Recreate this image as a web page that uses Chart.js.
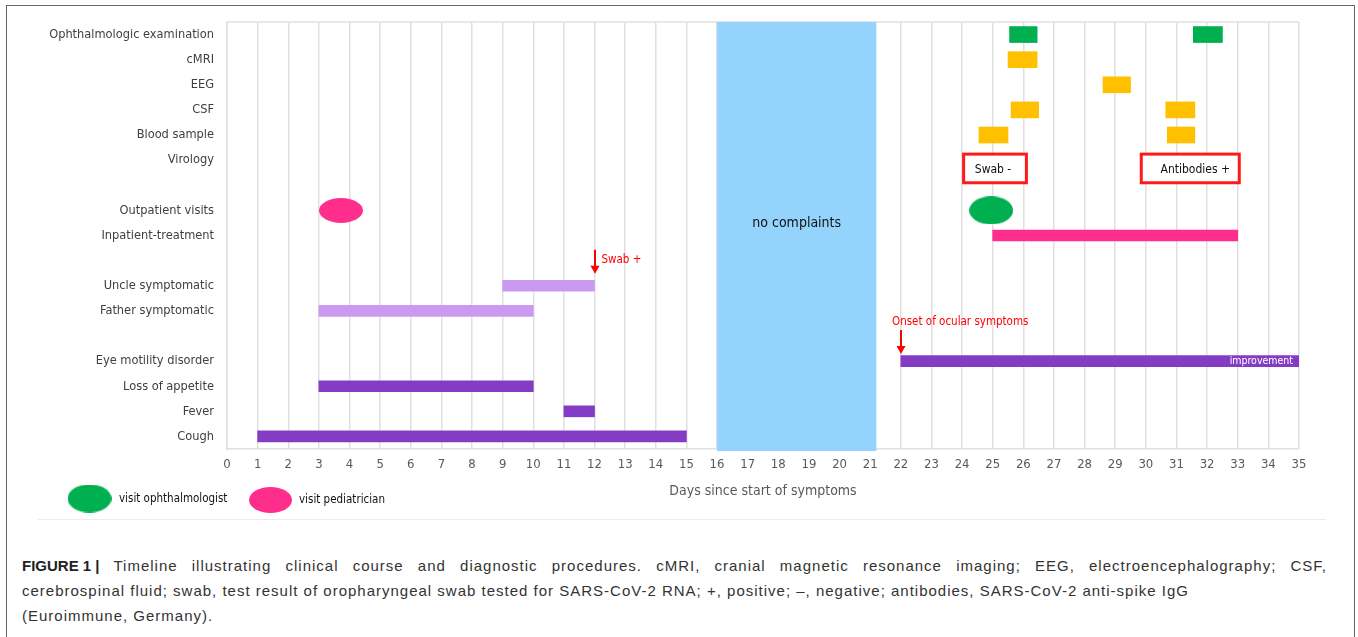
<!DOCTYPE html>
<html>
<head>
<meta charset="utf-8">
<script src="https://cdn.jsdelivr.net/npm/chart.js@4.4.1/dist/chart.umd.min.js"></script>
<style>
  html, body { margin: 0; padding: 0; background: #fff; }
  body { width: 1358px; height: 637px; position: relative; overflow: hidden; font-family: 'Liberation Sans', Arial, sans-serif; }
  .frame { position: absolute; left: 6px; top: 5px; width: 1347px; height: 660px; border: 1.5px solid #666; }
  .chartBox { position: absolute; left: 0; top: 0; width: 1358px; height: 525px; }
  .rule { position: absolute; left: 38px; top: 519px; width: 1288px; height: 1px; background: #ececec; }
  .caption { position: absolute; left: 22px; top: 553px; width: 1305px; font-size: 15px; line-height: 25px; color: #333; letter-spacing: 1px; }
  .caption div { white-space: nowrap; }
  .caption .just { white-space: normal; text-align: justify; text-align-last: justify; }
  .caption b { display: inline-block; letter-spacing: 0; color: #222; }
</style>
</head>
<body>
<div class="frame"></div>
<div class="rule"></div>
<div class="chartBox"><canvas id="timeline" width="1358" height="525"></canvas></div>
<div class="caption">
  <div class="just"><b>FIGURE 1 |</b> Timeline illustrating clinical course and diagnostic procedures. cMRI, cranial magnetic resonance imaging; EEG, electroencephalography; CSF,</div>
  <div>cerebrospinal fluid; swab, test result of oropharyngeal swab tested for SARS-CoV-2 RNA; +, positive; &ndash;, negative; antibodies, SARS-CoV-2 anti-spike IgG</div>
  <div>(Euroimmune, Germany).</div>
</div>
<script>
const FONT = "'DejaVu Sans Condensed', 'DejaVu Sans', sans-serif";

// rows of the timeline (blank rows are spacers)
const rowLabels = ['Ophthalmologic examination', 'cMRI', 'EEG', 'CSF', 'Blood sample', 'Virology', '',
    'Outpatient visits', 'Inpatient-treatment', '', 'Uncle symptomatic', 'Father symptomatic', '',
    'Eye motility disorder', 'Loss of appetite', 'Fever', 'Cough'];
const dayTicks = [0, 1, 2, 3, 4, 5, 6, 7, 8, 9, 10, 11, 12, 13, 14, 15, 16, 17, 18, 19, 20,
    21, 22, 23, 24, 25, 26, 27, 28, 29, 30, 31, 32, 33, 34, 35];

// diagnostic procedures (first and second round)
const examRows = ['Ophthalmologic examination', 'cMRI', 'EEG', 'CSF', 'Blood sample'];
const examFirst = [[25.55, 26.45], [25.5, 26.45], [28.6, 29.5], [25.6, 26.5], [24.55, 25.5]];
const examSecond = [[31.55, 32.5], null, null, [30.65, 31.6], [30.7, 31.6]];
const examColors = ['#00b050', '#ffc000', '#ffc000', '#ffc000', '#ffc000'];

// clinical course
const courseRows = ['Inpatient-treatment', 'Uncle symptomatic', 'Father symptomatic',
    'Eye motility disorder', 'Loss of appetite', 'Fever', 'Cough'];
const courseDays = [[25, 33], [9, 12], [3, 10], [22, 35], [3, 10], [11, 12], [1, 15]];
const courseColors = ['#ff2e8c', '#c99af0', '#c99af0', '#843cc4', '#843cc4', '#843cc4', '#843cc4'];

// outpatient visits
const visitLabels = ['visit ophthalmologist', 'visit pediatrician'];
const visitDays = [24.95, 3.72];
const visitColors = ['#00b050', '#ff2e8c'];

// virology results
const virologyTests = ['Swab -', 'Antibodies +'];
const virologyDays = [[24.05, 26.1], [29.85, 33.05]];

// notes
const noComplaints = [16, 21.2];
const noComplaintsLabel = 'no complaints';
const noteText = ['Swab +', 'Onset of ocular symptoms'];
const noteDay = [12, 22];
const noteRow = ['Uncle symptomatic', 'Eye motility disorder'];
const eyeNote = 'improvement';

const ellipseImage = (color, w, h) => {
    const c = document.createElement('canvas');
    c.width = w;
    c.height = h;
    const g = c.getContext('2d');
    g.fillStyle = color;
    g.beginPath();
    g.ellipse(w / 2, h / 2, w / 2, h / 2, 0, 0, Math.PI * 2);
    g.fill();
    return c;
};
const visitMarks = [ellipseImage(visitColors[0], 44, 28), ellipseImage(visitColors[1], 44, 25)];
const legendMarks = [ellipseImage(visitColors[0], 44, 28), ellipseImage(visitColors[1], 43, 26)];

const barSet = (rows, days, colors, thickness) => ({
    type: 'bar',
    data: rows.map((r, i) => days[i] ? { x: days[i], y: r } : null).filter(Boolean),
    backgroundColor: rows.map((r, i) => colors[i]).filter((c, i) => days[i]),
    barThickness: thickness,
    grouped: false,
    borderWidth: 0
});

const timelineExtras = {
    id: 'timelineExtras',
    beforeDatasetsDraw(chart) {
        const { ctx, chartArea, scales: { x, y } } = chart;
        ctx.save();
        ctx.strokeStyle = '#e0e0e0';
        ctx.lineWidth = 1.5;
        ctx.beginPath();
        ctx.moveTo(chartArea.left, chartArea.top);
        ctx.lineTo(chartArea.right, chartArea.top);
        ctx.stroke();

        const x0 = x.getPixelForValue(noComplaints[0]);
        const x1 = x.getPixelForValue(noComplaints[1]);
        ctx.fillStyle = '#94d3fc';
        ctx.fillRect(x0, chartArea.top, x1 - x0, chartArea.bottom - chartArea.top + 2);
        ctx.fillStyle = '#111';
        ctx.font = '14px ' + FONT;
        ctx.textAlign = 'center';
        ctx.textBaseline = 'middle';
        ctx.fillText(noComplaintsLabel, (x0 + x1) / 2, (y.getPixelForValue(7) + y.getPixelForValue(8)) / 2);
        ctx.restore();
    },
    afterDatasetsDraw(chart) {
        const { ctx, scales: { x, y } } = chart;
        const rowPx = name => y.getPixelForValue(rowLabels.indexOf(name));
        const step = y.getPixelForValue(1) - y.getPixelForValue(0);
        ctx.save();

        // boxes with virology results
        const vy = rowPx('Virology') + step * 0.33;
        const vh = step * 1.14;
        ctx.font = '12px ' + FONT;
        ctx.textAlign = 'center';
        ctx.textBaseline = 'middle';
        virologyTests.forEach((t, i) => {
            const x0 = x.getPixelForValue(virologyDays[i][0]);
            const x1 = x.getPixelForValue(virologyDays[i][1]);
            ctx.fillStyle = '#fff';
            ctx.fillRect(x0, vy - vh / 2, x1 - x0, vh);
            ctx.strokeStyle = '#ff1a1a';
            ctx.lineWidth = 3;
            ctx.strokeRect(x0, vy - vh / 2, x1 - x0, vh);
            ctx.fillStyle = '#111';
            ctx.fillText(t, (x0 + x1) / 2 + (i ? 5 : -2), vy + 1);
        });

        // red arrows
        const gaps = [6.5, 1.5];
        ctx.font = '11.5px ' + FONT;
        ctx.textBaseline = 'middle';
        noteText.forEach((t, i) => {
            const ax = Math.round(x.getPixelForValue(noteDay[i]));
            const tip = rowPx(noteRow[i]) - 5.5 - gaps[i];
            ctx.strokeStyle = '#ff0000';
            ctx.fillStyle = '#ff0000';
            ctx.lineWidth = 2;
            ctx.beginPath();
            ctx.moveTo(ax, tip - 24);
            ctx.lineTo(ax, tip - 7);
            ctx.stroke();
            ctx.beginPath();
            ctx.moveTo(ax - 4.5, tip - 8);
            ctx.lineTo(ax + 4.5, tip - 8);
            ctx.lineTo(ax, tip);
            ctx.closePath();
            ctx.fill();
            ctx.textAlign = 'left';
            if (i === 0) {
                ctx.fillText(t, ax + 6.5, tip - 14);
            } else {
                ctx.fillText(t, ax - 9, tip - 32);
            }
        });

        // text inside the eye motility bar
        ctx.fillStyle = '#fff';
        ctx.font = '10.5px ' + FONT;
        ctx.textAlign = 'right';
        ctx.fillText(eyeNote, x.getPixelForValue(35) - 6, rowPx('Eye motility disorder') + 0.5);
        ctx.restore();
    },
    afterDraw(chart) {
        const ctx = chart.ctx;
        const keyX = [89.5, 270.5];
        const keyY = [498.5, 500];
        const textX = [119, 299];
        ctx.save();
        ctx.font = '11.5px ' + FONT;
        ctx.fillStyle = '#111';
        ctx.textAlign = 'left';
        ctx.textBaseline = 'middle';
        visitLabels.forEach((t, i) => {
            const img = legendMarks[i];
            ctx.drawImage(img, keyX[i] - img.width / 2, keyY[i] - img.height / 2);
            ctx.fillText(t, textX[i], keyY[i] + 0.5);
        });
        ctx.restore();
    }
};

const datasets = [
    barSet(examRows, examFirst, examColors, 16),
    barSet(examRows, examSecond, examColors, 16),
    barSet(courseRows, courseDays, courseColors, 11)
];
visitLabels.forEach((label, i) => {
    datasets.push({
        type: 'scatter',
        label: label,
        data: [{ x: visitDays[i], y: 'Outpatient visits' }],
        pointStyle: visitMarks[i],
        clip: false
    });
});

new Chart(document.getElementById('timeline'), {
    type: 'bar',
    data: { labels: rowLabels, datasets: datasets },
    options: {
        indexAxis: 'y',
        responsive: false,
        animation: false,
        events: [],
        layout: { padding: { left: 0, top: 22, right: 59, bottom: 0 } },
        plugins: { legend: { display: false }, tooltip: { enabled: false } },
        scales: {
            x: {
                type: 'linear',
                min: 0,
                max: 35,
                afterBuildTicks: s => { s.ticks = dayTicks.map(v => ({ value: v })); },
                afterFit: s => { s.height = 76; },
                grid: { color: '#e0e0e0', lineWidth: 1.5, drawTicks: false },
                border: { color: '#e0e0e0', width: 1.5 },
                ticks: { padding: 8, color: '#595959', font: { family: FONT, size: 13 }, autoSkip: false, maxRotation: 0 },
                title: {
                    display: true,
                    text: 'Days since start of symptoms',
                    color: '#595959',
                    font: { family: FONT, size: 14 },
                    padding: { top: 2, bottom: 25 }
                }
            },
            y: {
                type: 'category',
                afterFit: s => { s.width = 227; },
                grid: { display: false, drawTicks: false },
                border: { color: '#e0e0e0', width: 1.5 },
                ticks: { padding: 13, color: '#404040', font: { family: FONT, size: 12.7 }, autoSkip: false }
            }
        }
    },
    plugins: [timelineExtras]
});
</script>
</body>
</html>
